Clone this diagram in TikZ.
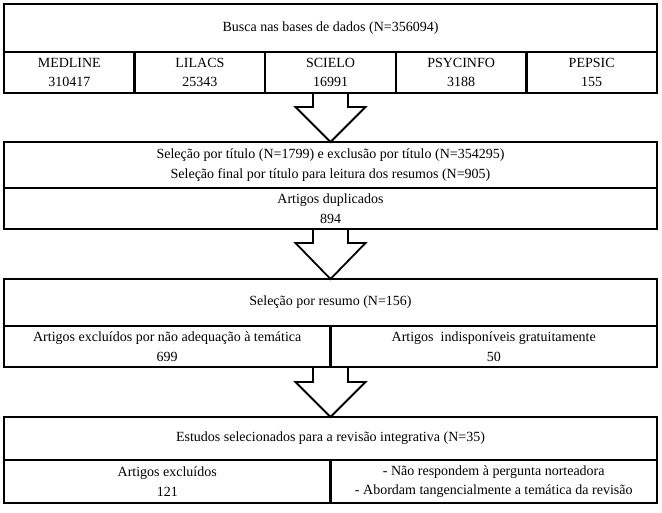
\documentclass[tikz,border=0pt]{standalone}
\usepackage{fontspec}
\setmainfont{Liberation Serif}
\usepackage{tikz}
\usetikzlibrary{positioning, calc}

\begin{document}
\begin{tikzpicture}[
    x = 1pt, y = 1pt,
    box/.style  = {rectangle, draw, line width=2.5pt,
                   anchor=north west, inner sep=0pt,
                   outer sep=0pt, align=center,
                   font=\fontsize{14}{19.5}\selectfont},
    full/.style = {box, minimum width=653pt},
    fifth/.style = {box, minimum width=130.6pt,
                    minimum height=41pt},
    half/.style = {box, minimum width=326.5pt},
    bigarrow/.style = {draw, line width=1.8pt,
                       line join=miter}
]
\useasboundingbox (0,0) rectangle (662,-512);

%% Busca
\node[full, minimum height=48pt] (busca) at (4,-4)
    {Busca nas bases de dados (N=356094)};
\node[fifth] (medline) at (busca.south west)
    {MEDLINE\\310417};
\node[fifth, right=0pt of medline] (lilacs)
    {LILACS\\25343};
\node[fifth, right=0pt of lilacs] (scielo)
    {SCIELO\\16991};
\node[fifth, right=0pt of scielo] (psycinfo)
    {PSYCINFO\\3188};
\node[fifth, right=0pt of psycinfo] (pepsic)
    {PEPSIC\\155};

%% Titulo
\node[full, minimum height=46pt, anchor=north,
      below=49pt of scielo] (titulo)
    {Seleção por título (N=1799) e exclusão por título (N=354295)\\
     Seleção final por título para leitura dos resumos (N=905)};
\node[full, minimum height=41pt] (dup) at (titulo.south west)
    {Artigos duplicados\\894};

%% Resumo
\node[full, minimum height=47pt, anchor=north,
      below=50pt of dup] (resumo)
    {Seleção por resumo (N=156)};
\node[half, minimum height=41pt] (tematica) at (resumo.south west)
    {Artigos excluídos por não adequação à temática\\699};
\node[half, minimum height=41pt, right=0pt of tematica] (gratis)
    {Artigos~ indisponíveis gratuitamente\\50};
\coordinate (r3s) at (resumo.south |- tematica.south);

%% Estudos
\node[full, minimum height=43pt, anchor=north,
      below=50pt of r3s] (estudos)
    {Estudos selecionados para a revisão integrativa (N=35)};
\node[half, minimum height=43pt] (excl) at (estudos.south west)
    {Artigos excluídos\\121};
\node[half, minimum height=43pt, right=0pt of excl] (motivos)
    {- Não respondem à pergunta norteadora\\
     - Abordam tangencialmente a temática da revisão};

%% Arrows
\draw[bigarrow] ($(scielo.south)+(-17.5,0)$)
    |- ($(titulo.north)+(-35,35)$) -- (titulo.north)
    -- ($(titulo.north)+(35,35)$) -| ($(scielo.south)+(17.5,0)$);
\draw[bigarrow] ($(dup.south)+(-17.5,0)$)
    |- ($(resumo.north)+(-35,36)$) -- (resumo.north)
    -- ($(resumo.north)+(35,36)$) -| ($(dup.south)+(17.5,0)$);
\draw[bigarrow] ($(r3s)+(-17.5,0)$)
    |- ($(estudos.north)+(-35,35)$) -- (estudos.north)
    -- ($(estudos.north)+(35,35)$) -| ($(r3s)+(17.5,0)$);
\end{tikzpicture}
\end{document}
